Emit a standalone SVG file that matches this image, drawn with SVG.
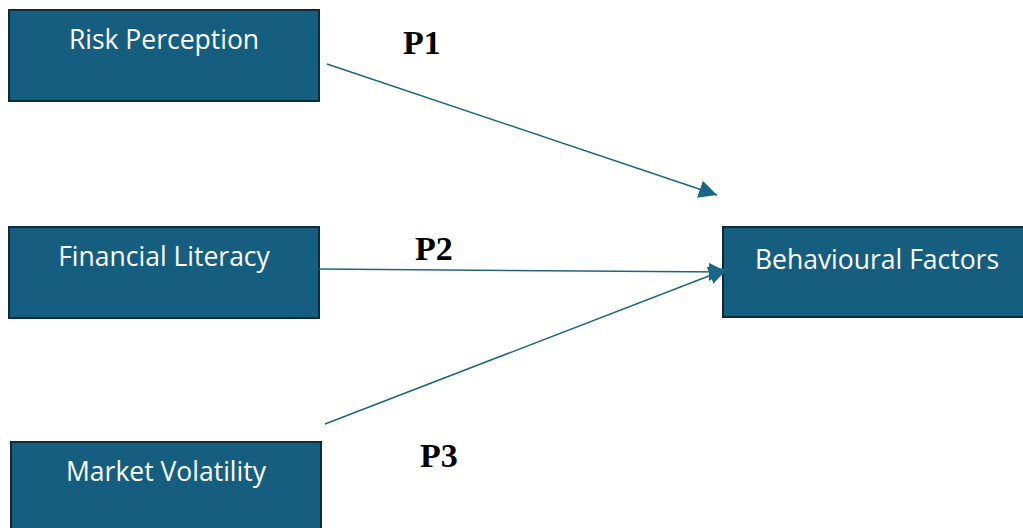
<svg xmlns="http://www.w3.org/2000/svg" width="1023" height="528" viewBox="0 0 1023 528">
  <style>
    .box { fill: #155e7f; stroke: #0c2b3b; stroke-width: 2; }
    .lbl { font-family: "Open Sans", "Liberation Sans", sans-serif; font-size: 26.5px; fill: #ffffff; text-anchor: middle; }
    .p { font-family: "Liberation Serif", "Times New Roman", serif; font-weight: 700; font-size: 34px; fill: #000000; }
    .edge { stroke: #1b6688; stroke-width: 1.5; fill: none; marker-end: url(#arrow); }
  </style>
  <defs>
    <marker id="arrow" viewBox="0 0 10 10" refX="10" refY="5" markerWidth="18" markerHeight="18" markerUnits="userSpaceOnUse" orient="auto">
      <path d="M0,0 L10,5 L0,10 z" fill="#1b6688"/>
    </marker>
  </defs>
  <rect width="1023" height="528" fill="#ffffff"/>

  <g id="risk-perception">
    <rect class="box" x="9" y="10" width="310" height="91"/>
    <text class="lbl" x="164" y="49">Risk Perception</text>
  </g>
  <g id="financial-literacy">
    <rect class="box" x="9" y="227" width="310" height="91"/>
    <text class="lbl" x="164" y="266">Financial Literacy</text>
  </g>
  <g id="market-volatility">
    <rect class="box" x="11" y="442" width="310" height="96"/>
    <text class="lbl" x="166" y="481">Market Volatility</text>
  </g>
  <g id="behavioural-factors">
    <rect class="box" x="723" y="227" width="310" height="90"/>
    <text class="lbl" x="877" y="269">Behavioural Factors</text>
  </g>

  <g id="connectors">
    <path class="edge" d="M327,64 L717,195"/>
    <path class="edge" d="M319,269 L727,272"/>
    <path class="edge" d="M325,424 L727,269"/>
  </g>

  <g id="labels">
    <text class="p" x="403" y="54">P1</text>
    <text class="p" x="415" y="260">P2</text>
    <text class="p" x="420" y="467">P3</text>
  </g>
</svg>
